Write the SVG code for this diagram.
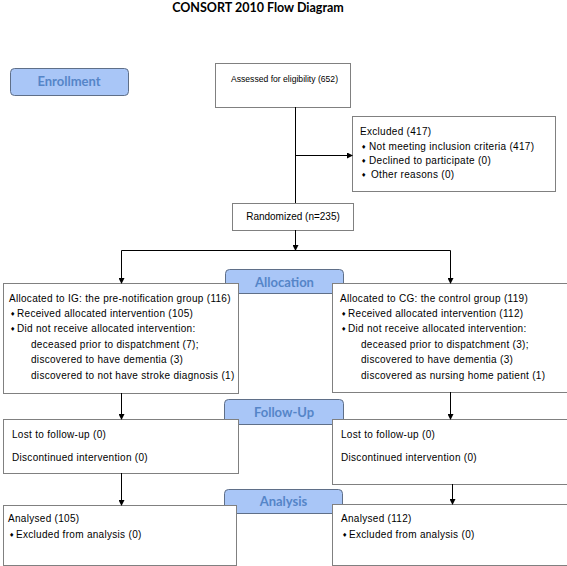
<svg xmlns="http://www.w3.org/2000/svg" width="567" height="566" viewBox="0 0 567 566">
<defs>
<marker id="arr" markerWidth="6" markerHeight="6" refX="5" refY="3" orient="auto" markerUnits="userSpaceOnUse">
<path d="M0,0 L6,3 L0,6 Z" fill="#000"/>
</marker>
<style>
.box{fill:#fff;stroke:#808080;stroke-width:1}
.stage{fill:#a9c6f7;stroke:#5f6f88;stroke-width:1}
.st{font-family:Lato,"Liberation Sans",sans-serif;font-weight:700;font-size:13px;fill:#5585c8;text-anchor:middle}
.t{font-family:"Liberation Sans",Arial,sans-serif;font-size:10px;letter-spacing:0.3px;fill:#000}
.b{font-family:"DejaVu Sans",sans-serif;font-size:6px;fill:#000}
.ln{stroke:#000;stroke-width:1;fill:none}
.title{font-family:Lato,"Liberation Sans",sans-serif;font-weight:700;font-size:12.5px;fill:#000;text-anchor:middle}
</style>
</defs>
<rect width="567" height="566" fill="#fff"/>
<text class="title" x="258" y="12">CONSORT 2010 Flow Diagram</text>

<g id="enrollment">
<rect class="stage" x="10.5" y="68.5" width="118" height="27" rx="4"/>
<text class="st" x="69" y="86">Enrollment</text>
</g>
<g id="assessed">
<rect class="box" x="215.5" y="63.5" width="135" height="44"/>
<text class="t" x="231" y="82" style="font-size:8.6px;letter-spacing:0">Assessed for eligibility (652)</text>
</g>
<g id="excluded">
<rect class="box" x="352.5" y="116.5" width="203" height="75"/>
<text class="t" x="360" y="135">Excluded  (417)</text>
<text class="b" x="361" y="149">♦</text><text class="t" x="369" y="149.5">Not meeting inclusion criteria (417)</text>
<text class="b" x="361" y="163">♦</text><text class="t" x="369" y="163.5">Declined to participate (0)</text>
<text class="b" x="361" y="177">♦</text><text class="t" x="371" y="177.5">Other reasons (0)</text>
</g>
<g id="randomized">
<rect class="box" x="232.5" y="203.5" width="121" height="27"/>
<text class="t" x="293" y="220" text-anchor="middle" style="letter-spacing:0">Randomized (n=235)</text>
</g>
<g id="allocation">
<rect class="stage" x="225.5" y="269.5" width="118" height="24" rx="4"/>
<text class="st" x="284.5" y="286.5">Allocation</text>
</g>
<g id="alloc-ig">
<rect class="box" x="3.5" y="283.5" width="235" height="110"/>
<text class="t" x="9" y="302">Allocated to IG: the pre-notification group (116)</text>
<text class="b" x="10" y="316">♦</text><text class="t" x="17" y="316.5">Received allocated intervention (105)</text>
<text class="b" x="10" y="331">♦</text><text class="t" x="17" y="331.5">Did not receive allocated intervention:</text>
<text class="t" x="31" y="347.5">deceased prior to dispatchment (7);</text>
<text class="t" x="31" y="362.5">discovered to have dementia (3)</text>
<text class="t" x="31" y="378.5">discovered to not have stroke diagnosis (1)</text>
</g>
<g id="alloc-cg">
<rect class="box" x="332.5" y="283.5" width="240" height="109"/>
<text class="t" x="340" y="302">Allocated to CG: the control group (119)</text>
<text class="b" x="341" y="316">♦</text><text class="t" x="348" y="316.5">Received allocated intervention (112)</text>
<text class="b" x="341" y="331">♦</text><text class="t" x="348" y="331.5">Did not receive allocated intervention:</text>
<text class="t" x="361" y="347.5">deceased prior to dispatchment (3);</text>
<text class="t" x="361" y="362.5">discovered to have dementia (3)</text>
<text class="t" x="361" y="378.5">discovered as nursing home patient (1)</text>
</g>
<g id="followup">
<rect class="stage" x="224.5" y="399.5" width="119" height="25" rx="4"/>
<text class="st" x="284" y="416.5">Follow-Up</text>
</g>
<g id="fu-ig">
<rect class="box" x="3.5" y="419.5" width="235" height="54"/>
<text class="t" x="12" y="438">Lost to follow-up (0)</text>
<text class="t" x="12" y="461">Discontinued intervention (0)</text>
</g>
<g id="fu-cg">
<rect class="box" x="332.5" y="419.5" width="240" height="65"/>
<text class="t" x="341" y="438">Lost to follow-up (0)</text>
<text class="t" x="341" y="461">Discontinued intervention (0)</text>
</g>
<g id="analysis">
<rect class="stage" x="224.5" y="489.5" width="118" height="24" rx="4"/>
<text class="st" x="283.5" y="506">Analysis</text>
</g>
<g id="an-ig">
<rect class="box" x="3.5" y="505.5" width="233" height="60"/>
<text class="t" x="8" y="522">Analysed  (105)</text>
<text class="b" x="9" y="537">♦</text><text class="t" x="16" y="537.5">Excluded from analysis (0)</text>
</g>
<g id="an-cg">
<rect class="box" x="332.5" y="504.5" width="240" height="61"/>
<text class="t" x="341" y="522">Analysed  (112)</text>
<text class="b" x="342" y="537">♦</text><text class="t" x="349" y="537.5">Excluded from analysis (0)</text>
</g>

<g id="connectors">
<path class="ln" d="M295.5,107 V203" stroke="#808080"/>
<path class="ln" d="M295.5,155.5 H352" marker-end="url(#arr)"/>
<path class="ln" d="M295.5,230 V250" marker-end="url(#arr)"/>
<path class="ln" d="M121.5,283 V250.5 H450.5 V283"/>
<path class="ln" d="M121.5,262 V283" marker-end="url(#arr)"/>
<path class="ln" d="M450.5,262 V283" marker-end="url(#arr)"/>
<path class="ln" d="M121.5,393 V419" marker-end="url(#arr)"/>
<path class="ln" d="M450.5,392 V419" marker-end="url(#arr)"/>
<path class="ln" d="M121.5,473 V505" marker-end="url(#arr)"/>
<path class="ln" d="M452.5,484 V504" marker-end="url(#arr)"/>
</g>
</svg>
